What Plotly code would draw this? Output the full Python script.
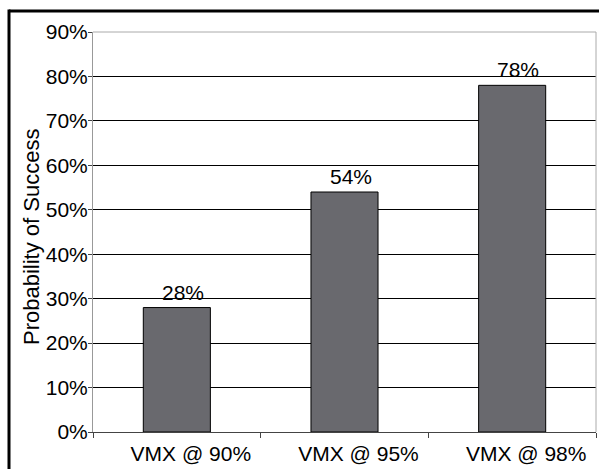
import plotly.graph_objects as go

categories = ["VMX @ 90%", "VMX @ 95%", "VMX @ 98%"]
values = [0.28, 0.54, 0.78]
labels = ["28%", "54%", "78%"]
y_title = "Probability of Success"

FONT = "Liberation Sans, Arial, sans-serif"
FS = 21

fig = go.Figure()
fig.add_trace(go.Bar(
    x=categories, y=values, width=0.4,
    marker=dict(color="#69696e", line=dict(color="#000000", width=1)),
    hoverinfo="skip",
))

for c, v, t in zip(categories, values, labels):
    fig.add_annotation(x=c, y=v, text=t, showarrow=False, yanchor="bottom",
                       yshift=2, xshift=6, font=dict(family=FONT, size=FS, color="#000"))

# y axis title as annotation for exact placement
fig.add_annotation(xref="paper", yref="paper", x=(32 - 93) / 503, y=(432 - 237) / 400,
                   text=y_title, textangle=-90, showarrow=False,
                   xanchor="center", yanchor="middle",
                   font=dict(family=FONT, size=22, color="#000"))

fig.update_layout(
    width=599, height=469,
    margin=dict(l=93, r=3, t=32, b=37),
    paper_bgcolor="white", plot_bgcolor="white",
    showlegend=False,
    font=dict(family=FONT, size=FS, color="#000"),
    bargap=0.6,
)
fig.update_xaxes(
    type="category", showgrid=False, showline=True, linecolor="#444", linewidth=1,
    ticks="outside", tickson="boundaries", ticklen=5, tickcolor="#444",
    ticklabelshift=14, ticklabelstandoff=3,
    tickfont=dict(family=FONT, size=FS, color="#000"),
)
fig.update_yaxes(
    range=[0, 0.9], dtick=0.1, tickformat=".0%",
    showgrid=True, gridcolor="#000", gridwidth=1,
    showline=True, linecolor="#999", linewidth=1, mirror=False,
    ticks="outside", ticklen=4, tickcolor="#444", ticklabelstandoff=-4,
    tickfont=dict(family=FONT, size=FS, color="#000"),
    zeroline=False,
)
# top and right border of plot area (light gray)
fig.add_shape(type="line", xref="paper", yref="paper", x0=0, x1=1, y0=1, y1=1,
              line=dict(color="#aaa", width=1))
fig.add_shape(type="line", xref="paper", yref="paper", x0=1, x1=1, y0=0, y1=1,
              line=dict(color="#aaa", width=1))
# outer black frame: top and left edges (right and bottom are cropped away)
fig.add_shape(type="line", xref="paper", yref="paper",
              x0=(9 - 93) / 503, x1=1.2, y0=1 + (32 - 11) / 400, y1=1 + (32 - 11) / 400,
              line=dict(color="#000", width=3))
fig.add_shape(type="line", xref="paper", yref="paper",
              x0=(9 - 93) / 503, x1=(9 - 93) / 503, y0=-0.3, y1=1 + (32 - 11) / 400 + 0.004,
              line=dict(color="#000", width=3))

fig.write_html("out.html")
